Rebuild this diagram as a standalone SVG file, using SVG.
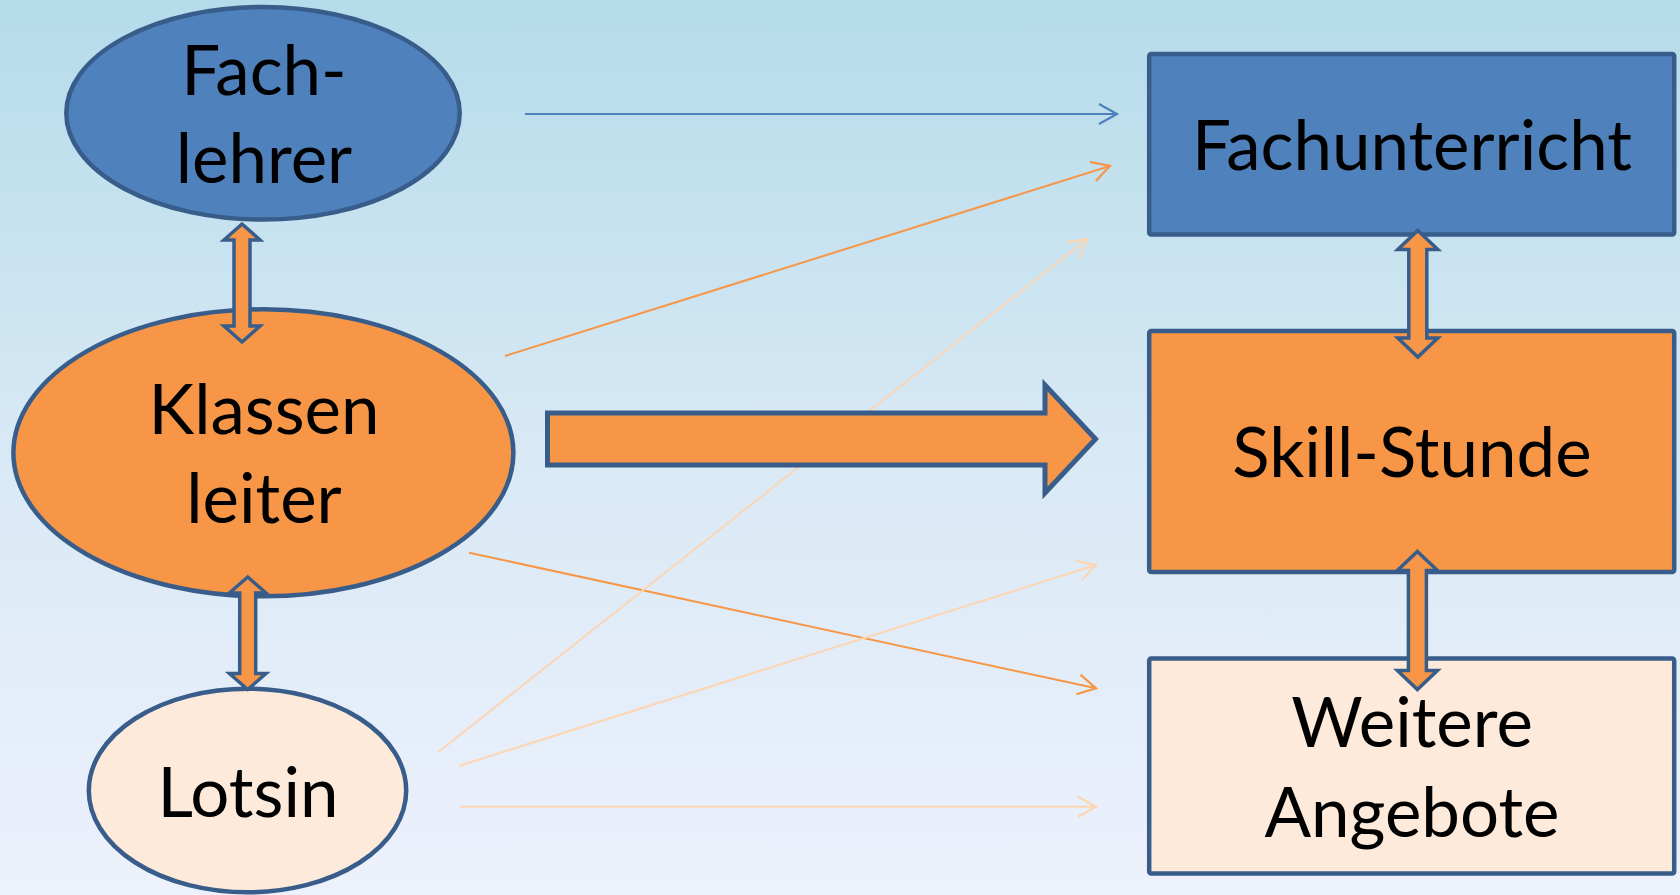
<svg xmlns="http://www.w3.org/2000/svg" width="1680" height="895" viewBox="0 0 1680 895">
  <defs>
    <linearGradient id="bg" x1="0" y1="0" x2="0" y2="1">
      <stop offset="0" stop-color="#B5DBEA"/>
      <stop offset="0.5" stop-color="#D8E9F5"/>
      <stop offset="1" stop-color="#EDF1FC"/>
    </linearGradient>
    <marker id="mBlue" markerUnits="userSpaceOnUse" markerWidth="24" markerHeight="26" refX="19" refY="11" orient="auto" viewBox="0 0 24 26">
      <path d="M1,1 L19,11 L1,21" fill="none" stroke="#4F81BD" stroke-width="2.2"/>
    </marker>
    <marker id="mOrange" markerUnits="userSpaceOnUse" markerWidth="24" markerHeight="26" refX="19" refY="11" orient="auto" viewBox="0 0 24 26">
      <path d="M1,1 L19,11 L1,21" fill="none" stroke="#F79646" stroke-width="2.2"/>
    </marker>
    <marker id="mLight" markerUnits="userSpaceOnUse" markerWidth="24" markerHeight="26" refX="19" refY="11" orient="auto" viewBox="0 0 24 26">
      <path d="M1,1 L19,11 L1,21" fill="none" stroke="#FCD5B4" stroke-width="2.2"/>
    </marker>
    <style>
      .lbl { font-family: Lato, "Open Sans", "Liberation Sans", sans-serif; font-size: 69px; fill: #000; text-anchor: middle; }
      .shape { stroke: #385D8A; stroke-width: 4.5; }
      .box { stroke: #385D8A; stroke-width: 4.5; }
      .blue { fill: #4F81BD; }
      .orange { fill: #F79646; }
      .light { fill: #FDEADA; }
      .dbl { fill: #F79646; stroke: #385D8A; stroke-width: 3.5; stroke-linejoin: miter; }
      .ln { fill: none; stroke-width: 2; }
    </style>
  </defs>
  <rect x="0" y="0" width="1680" height="895" fill="url(#bg)"/>

  <g id="connectors">
    <line class="ln" x1="525" y1="114" x2="1117" y2="114" stroke="#4F81BD" marker-end="url(#mBlue)"/>
    <line class="ln" x1="505" y1="356" x2="1110" y2="166" stroke="#F79646" marker-end="url(#mOrange)"/>
    <line class="ln" x1="469" y1="552.7" x2="1096" y2="688.3" stroke="#F79646" marker-end="url(#mOrange)"/>
    <line class="ln" x1="438" y1="752.3" x2="1087" y2="239" stroke="#FCD5B4" marker-end="url(#mLight)"/>
    <line class="ln" x1="459.4" y1="765.7" x2="1096" y2="565" stroke="#FCD5B4" marker-end="url(#mLight)"/>
    <line class="ln" x1="459.4" y1="806.7" x2="1096" y2="806.7" stroke="#FCD5B4" marker-end="url(#mLight)"/>
  </g>

  <g id="node-fachlehrer">
    <ellipse class="shape blue" cx="263" cy="113.3" rx="196.7" ry="106.3"/>
    <text class="lbl" x="264" y="95">Fach-</text>
    <text class="lbl" x="264" y="183.3">lehrer</text>
  </g>

  <g id="node-klassenleiter">
    <ellipse class="shape orange" cx="263.4" cy="452.8" rx="250" ry="143.5"/>
    <text class="lbl" x="264" y="434">Klassen</text>
    <text class="lbl" x="264" y="523.3">leiter</text>
  </g>

  <g id="node-lotsin">
    <ellipse class="shape light" cx="247.5" cy="790.5" rx="158.7" ry="101.8"/>
    <text class="lbl" x="248" y="817.3">Lotsin</text>
  </g>

  <g id="node-fachunterricht">
    <rect class="box blue" x="1149.2" y="54" width="525" height="180.5" rx="2"/>
    <text class="lbl" x="1412" y="170">Fachunterricht</text>
  </g>

  <g id="node-skillstunde">
    <rect class="box orange" x="1149.2" y="331" width="525" height="241" rx="2"/>
    <text class="lbl" x="1412" y="476.7">Skill-Stunde</text>
  </g>

  <g id="node-weitere">
    <rect class="box light" x="1149.2" y="658.5" width="525" height="215" rx="2"/>
    <text class="lbl" x="1412" y="746.7">Weitere</text>
    <text class="lbl" x="1412" y="836.7">Angebote</text>
  </g>

  <g id="big-arrow">
    <polygon fill="#F79646" stroke="#385D8A" stroke-width="5" points="547.5,413 1045,413 1045,385 1095.5,439 1045,493 1045,465 547.5,465"/>
  </g>

  <g id="double-arrows">
    <polygon class="dbl" points="242,224 260,240 250,240 250,326 260,326 242,342 224,326 234,326 234,240 224,240"/>
    <polygon class="dbl" points="247.7,577 266,593 255.7,593 255.7,673.5 266,673.5 247.7,689.5 229.4,673.5 239.7,673.5 239.7,593 229.4,593"/>
    <polygon class="dbl" points="1417.8,230.5 1437.8,249.5 1426.8,249.5 1426.8,338 1437.8,338 1417.8,357 1397.8,338 1408.8,338 1408.8,249.5 1397.8,249.5"/>
    <polygon class="dbl" points="1417.4,551.5 1437.4,570.5 1426.4,570.5 1426.4,670.5 1437.4,670.5 1417.4,689.5 1397.4,670.5 1408.4,670.5 1408.4,570.5 1397.4,570.5"/>
  </g>
</svg>
